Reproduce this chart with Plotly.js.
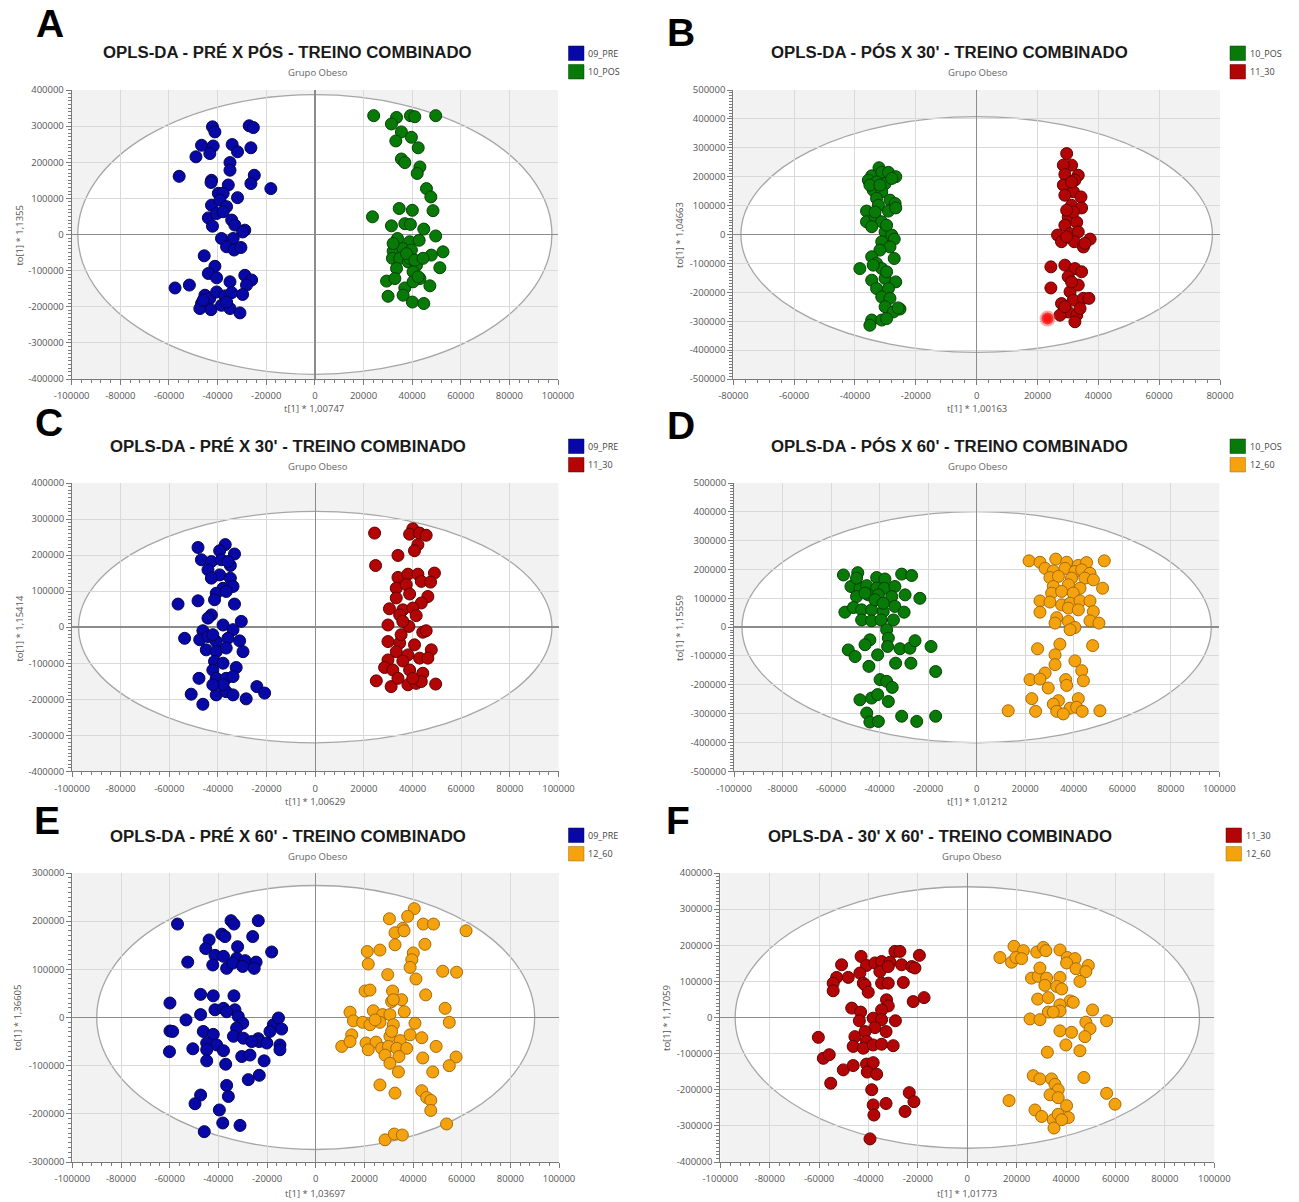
<!DOCTYPE html>
<html><head><meta charset="utf-8">
<script src="https://cdn.plot.ly/plotly-3.0.1.min.js"></script>
<style>html,body{margin:0;padding:0;background:#fff}#chart{width:1299px;height:1202px}</style>
</head><body><div id="chart"></div>
<script>
// ---------------- DATA ----------------
const PANEL_LETTERS = ['A','B','C','D','E','F'];
const TITLES = [
  "OPLS-DA - PRÉ X PÓS - TREINO COMBINADO",
  "OPLS-DA - PÓS X 30' - TREINO COMBINADO",
  "OPLS-DA - PRÉ X 30' - TREINO COMBINADO",
  "OPLS-DA - PÓS X 60' - TREINO COMBINADO",
  "OPLS-DA - PRÉ X 60' - TREINO COMBINADO",
  "OPLS-DA - 30' X 60' - TREINO COMBINADO"
];
const SUBTITLE = "Grupo Obeso";
const X_TITLES = ["t[1] * 1,00747","t[1] * 1,00163","t[1] * 1,00629","t[1] * 1,01212","t[1] * 1,03697","t[1] * 1,01773"];
const Y_TITLES = ["to[1] * 1,1355","to[1] * 1,04663","to[1] * 1,15414","to[1] * 1,15559","to[1] * 1,36605","to[1] * 1,17059"];
const LEGEND_GROUPS = [["09_PRE","10_POS"],["10_POS","11_30"],["09_PRE","11_30"],["10_POS","12_60"],["09_PRE","12_60"],["11_30","12_60"]];
const X_MAX = [100000, 80000, 100000, 100000, 100000, 100000];
const Y_MAX = [400000, 500000, 400000, 500000, 300000, 400000];
// Hotelling T2 ellipse semi-axes (t, to)
const ELLIPSE_T  = [97500, 77500, 97300, 96700, 90000, 94000];
const ELLIPSE_TO = [387000, 408000, 321000, 401000, 274000, 362000];

// Panel A
const A_PRE_X = [-42100,-41100,-27000,-25300,-46600,-41800,-43200,-34000,-31800,-26300,-48900,-34900,-34900,-55800,-42500,-42700,-24900,-26300,-35600,-18100,-39700,-37700,-31800,-42500,-39000,-36300,-43800,-40400,-37700,-42100,-34200,-32900,-28800,-29700,-38400,-33600,-36300,-33200,-30400,-45500,-41100,-43800,-40400,-34900,-28800,-26000,-28100,-57500,-51600,-45200,-46600,-43200,-40400,-37000,-34200,-29700,-47300,-42700,-38400,-34900,-30800,-45900,-36300];
const A_PRE_Y = [298000,284000,301000,296000,247000,245000,224000,249000,229000,240000,215000,199000,178000,161000,150000,144000,164000,141000,137000,127000,114000,114000,102000,81000,95000,77000,46000,58000,63000,23000,40000,26000,12000,7000,-11000,-11000,-34000,-43000,-36000,-59000,-88000,-108000,-120000,-131000,-113000,-126000,-140000,-148000,-140000,-168000,-191000,-177000,-159000,-170000,-161000,-166000,-205000,-208000,-196000,-205000,-217000,-182000,-187000];
const A_POS_X = [24200,33600,39300,41100,49700,31500,35600,39700,33300,42500,35600,37000,43200,42100,45900,47700,34700,40100,48600,23700,31500,37000,39300,44800,49700,34000,39000,42900,32200,36300,39700,47900,52700,51400,31900,34900,38400,41800,33600,40400,43200,47300,29500,32900,37000,40400,42500,30100,36300,40100,44800,39000,37700,41100,44500,32200];
const A_POS_Y = [329000,324000,329000,326000,329000,306000,284000,269000,259000,240000,209000,199000,187000,169000,127000,104000,72000,67000,66000,49000,24000,30000,28000,15000,-4000,-11000,-20000,-16000,-46000,-39000,-43000,-57000,-48000,-92000,-66000,-66000,-76000,-85000,-94000,-103000,-122000,-142000,-129000,-122000,-148000,-131000,-117000,-171000,-168000,-187000,-191000,-66000,-53000,-71000,-66000,-25000];

// Panel B
const B_POS_X = [-32100,-34500,-31200,-29000,-26600,-35600,-32900,-30100,-27900,-34000,-31200,-32900,-28500,-26800,-36200,-32300,-29000,-26600,-36200,-33400,-31200,-34500,-30100,-27900,-27100,-31200,-28500,-31800,-34500,-32900,-27100,-38400,-31200,-34500,-30100,-26600,-32900,-29000,-31200,-28500,-30100,-25200,-27400,-34500,-35100,-31200,-29600,-25800,-35100,-31800,-33400,-29600,-34000,-29600];
const B_POS_Y = [231000,203000,215000,215000,200000,188000,182000,176000,194000,153000,148000,125000,119000,107000,81000,101000,81000,92000,44000,61000,44000,27000,9000,-2000,-16000,-25000,-43000,-54000,-77000,-100000,-83000,-118000,-118000,-158000,-152000,-164000,-187000,-187000,-216000,-221000,-250000,-258000,-268000,-296000,-314000,-296000,-291000,-254000,171000,171000,78000,32000,-106000,-129000];
const B_30_X = [29600,31200,28500,33400,29000,32300,28500,31800,34300,29000,31200,34500,30100,32900,29000,30700,26600,33400,27900,32100,35100,37300,35600,29600,24400,29000,32300,34500,30100,24400,30700,33400,27900,31800,35100,36900,30100,32900,27400,32300,29000,34000,31200,31800,29600,31200];
const B_30_Y = [280000,240000,240000,205000,208000,188000,171000,148000,130000,136000,101000,92000,61000,42000,32000,3000,-2000,9000,-25000,-25000,-43000,-16000,-31000,-8000,-112000,-106000,-118000,-129000,-146000,-185000,-198000,-175000,-239000,-227000,-221000,-221000,-268000,-279000,-279000,-302000,-250000,-256000,182000,78000,84000,-164000];
const B_SEL_X = [23300];
const B_SEL_Y = [-291000];

// Panel C
const C_PRE_X = [-48200,-37000,-33200,-39300,-46800,-42700,-38600,-34900,-44100,-39300,-42700,-34900,-33800,-37900,-40700,-36600,-56400,-48200,-41400,-33200,-42700,-44100,-30400,-37900,-33800,-46200,-53700,-47500,-44100,-40700,-35900,-31100,-29700,-44800,-40700,-36600,-41400,-37900,-42100,-32500,-47800,-40700,-36600,-33800,-51000,-40700,-36600,-33800,-46200,-28400,-24000,-20800,-37900,-42100,-35900,-42100];
const C_PRE_Y = [221000,229000,203000,212000,187000,182000,187000,171000,159000,145000,136000,136000,113000,108000,94000,99000,64000,73000,76000,64000,34000,25000,16000,6000,-7000,-10000,-31000,-35000,-26000,-40000,-31000,-38000,-68000,-63000,-68000,-58000,-95000,-100000,-119000,-112000,-142000,-142000,-142000,-137000,-186000,-188000,-179000,-188000,-214000,-199000,-165000,-183000,-160000,-160000,182000,-21000];
const C_30_X = [24400,40100,38800,42900,45600,42200,40800,34000,24800,34000,38100,42200,49000,43600,47400,33300,37400,38800,46300,33300,43600,30500,36000,40100,34700,41500,38500,29900,44200,45600,29900,34700,40800,47700,33300,38100,29900,36000,42900,46300,28500,31900,38800,44200,25100,31200,34000,38100,41500,43600,49500,40100,36000,35300];
const C_30_Y = [261000,273000,258000,261000,255000,229000,212000,199000,171000,138000,147000,147000,150000,127000,125000,108000,118000,92000,85000,81000,67000,51000,48000,53000,34000,32000,2000,6000,-14000,-10000,-40000,-44000,-49000,-63000,-68000,-77000,-91000,-94000,-86000,-86000,-112000,-119000,-119000,-128000,-149000,-165000,-142000,-160000,-156000,-151000,-158000,-142000,16000,-21000];

// Panel D
const D_POS_X = [-54900,-49000,-41200,-37800,-30900,-26800,-51800,-48100,-45300,-41200,-38000,-33700,-49500,-44600,-40500,-35000,-29500,-23400,-54300,-50800,-47400,-43300,-38500,-33700,-29900,-47400,-43300,-39400,-34300,-37100,-36400,-44000,-46000,-52900,-50100,-40800,-36700,-31600,-27500,-25400,-18800,-44400,-33400,-27100,-16900,-39800,-37100,-34800,-48100,-43300,-40800,-36400,-45300,-44000,-40500,-30900,-24700,-16900,-46000,-41900,-38500,-49500];
const D_POS_Y = [181000,189000,172000,167000,184000,179000,141000,135000,144000,135000,135000,141000,106000,112000,112000,106000,112000,100000,52000,68000,60000,60000,54000,72000,52000,25000,22000,25000,25000,-9000,-38000,-44000,-61000,-79000,-102000,-96000,-67000,-75000,-73000,-47000,-67000,-136000,-125000,-125000,-154000,-182000,-188000,-209000,-252000,-246000,-234000,-258000,-298000,-329000,-327000,-309000,-327000,-309000,118000,95000,83000,170000];
const D_60_X = [21600,26100,32600,37100,41900,45300,52600,28200,31600,36400,40500,43300,46700,30200,33700,39100,44600,48100,31600,37800,42600,51900,30900,35000,39800,26100,30200,35000,38500,42600,46700,26100,33000,37800,41900,48100,32300,37800,40500,46700,50400,38500,25100,34300,47800,32300,32300,40500,43300,28200,22000,26100,36700,44000,29500,37100,22700,33700,41900,31600,38500,41200,13000,24300,33000,35700,43500,50800];
const D_60_Y = [230000,225000,236000,225000,214000,224000,230000,204000,195000,204000,193000,199000,187000,172000,176000,170000,170000,164000,141000,147000,135000,135000,118000,124000,118000,91000,87000,77000,83000,91000,91000,52000,33000,66000,60000,54000,14000,20000,-1000,22000,14000,-9000,-75000,-59000,-64000,-96000,-130000,-117000,-151000,-159000,-182000,-180000,-182000,-186000,-211000,-202000,-248000,-255000,-248000,-267000,-281000,-278000,-290000,-292000,-292000,-301000,-292000,-290000];

// Panel E
const E_PRE_X = [-56800,-34800,-33600,-23600,-38600,-37300,-25900,-43800,-45200,-32100,-41400,-37900,-32500,-29000,-24500,-18100,-52600,-42300,-36600,-34100,-30000,-25300,-47300,-42100,-33600,-59900,-41400,-37900,-33200,-53300,-47300,-31800,-30000,-59900,-58800,-46200,-42100,-32500,-33800,-29700,-23600,-17400,-15300,-14000,-44800,-40700,-37900,-23200,-20100,-14700,-60100,-50500,-44800,-30400,-27000,-21200,-44800,-37000,-27700,-23200,-36600,-35900,-47300,-49600,-39600,-38200,-31100,-45800,-36600,-26300,-18800,-14700];
const E_PRE_Y = [194000,201000,194000,201000,173000,168000,168000,161000,143000,147000,129000,127000,123000,118000,115000,136000,115000,109000,102000,113000,106000,102000,48000,45000,45000,30000,16000,19000,16000,-5000,6000,2000,-12000,-28000,-29000,-29000,-35000,-22000,-39000,-43000,-44000,-15000,-1000,-24000,-53000,-57000,-69000,-50000,-53000,-57000,-71000,-65000,-67000,-81000,-78000,-90000,-90000,-97000,-129000,-120000,-141000,-164000,-161000,-179000,-192000,-219000,-224000,-237000,12000,-50000,-29000,-67000];
const E_60_X = [40500,30300,37800,44200,48400,61800,35800,32600,36300,32600,44900,21200,26400,40100,39500,38800,21600,52200,57900,29600,41200,20300,22300,31600,45200,31200,35300,36400,53200,14100,23700,27500,30500,15500,19300,22300,26400,40800,54900,14800,20700,24800,30500,34700,38800,43600,10700,14100,21600,27100,29900,33300,37400,49500,28500,34200,44000,57700,54900,30500,34000,48100,26400,32600,43600,45600,47300,47300,53800,28500,32300,35600,24400,31900,31200,31900];
const E_60_Y = [226000,205000,210000,194000,194000,180000,185000,176000,180000,151000,152000,137000,140000,134000,120000,104000,111000,96000,94000,89000,80000,55000,57000,55000,47000,33000,37000,12000,19000,11000,14000,6000,6000,-7000,-10000,-15000,-10000,-12000,-10000,-36000,-53000,-51000,-39000,-48000,-36000,-42000,-60000,-50000,-67000,-64000,-60000,-64000,-64000,-60000,-78000,-81000,-84000,-82000,-100000,-95000,-113000,-113000,-140000,-157000,-152000,-166000,-172000,-193000,-221000,-254000,-242000,-244000,-5000,-15000,-29000,37000];

// Panel F
const F_30_X = [-43000,-50900,-40800,-37400,-34700,-29300,-27300,-19400,-31300,-26600,-22500,-21200,-43500,-35400,-32000,-52900,-48200,-54300,-54300,-42100,-41400,-40100,-34700,-32000,-25900,-32700,-32000,-21900,-17500,-46800,-43200,-34700,-43700,-38100,-34700,-29100,-37400,-32900,-60300,-45500,-41400,-40800,-46200,-42100,-38100,-34700,-30000,-58300,-55900,-50200,-46200,-40800,-38100,-40500,-36700,-55300,-38700,-23500,-21600,-38100,-32900,-37800,-25200,-39400];
const F_30_Y = [169000,146000,144000,151000,155000,183000,183000,172000,153000,146000,141000,137000,123000,127000,141000,111000,111000,95000,74000,95000,90000,70000,95000,95000,97000,49000,32000,44000,55000,26000,15000,21000,-9000,-2000,-6000,-9000,-28000,-39000,-55000,-53000,-39000,-66000,-80000,-85000,-76000,-74000,-78000,-113000,-103000,-145000,-133000,-129000,-125000,-151000,-157000,-182000,-200000,-208000,-233000,-242000,-238000,-270000,-260000,-336000];
const F_60_X = [13200,18900,22700,17900,19700,22000,28100,30800,31800,37500,40500,43600,40200,44000,49000,48000,45600,26000,28700,32100,37500,29400,31400,36200,38200,28500,32800,41600,42900,37500,32800,37500,25400,29400,34800,50700,56400,48000,49700,47600,37500,42200,39900,45600,32400,26700,29400,34100,35500,47200,36800,33500,36800,56400,59800,16900,27400,30100,34800,36800,40200,40900,35100,38200];
const F_60_Y = [166000,197000,185000,153000,166000,163000,181000,194000,185000,187000,166000,163000,151000,135000,144000,127000,100000,109000,114000,109000,111000,137000,89000,86000,79000,51000,55000,46000,42000,35000,15000,18000,-4000,-6000,15000,21000,-9000,-13000,-31000,-53000,-37000,-41000,-76000,-92000,-96000,-161000,-170000,-170000,-185000,-166000,-200000,-214000,-222000,-210000,-240000,-230000,-256000,-274000,-283000,-268000,-244000,-277000,-306000,-283000];

// ---------------- STYLE ----------------
const GROUP_COLORS = {
  "09_PRE": {fill:'#0808a8', line:'#04044e'},
  "10_POS": {fill:'#087a08', line:'#034203'},
  "11_30":  {fill:'#b30505', line:'#620000'},
  "12_60":  {fill:'#f4a30e', line:'#a86a06'}
};
const W = 1299, H = 1202;
const PX = v => v / W;
const PY = v => 1 - v / H;

// plot-area pixel boxes [left, right, top, bottom]
const GEOM = [
  [71.7, 558, 90, 379],
  [733.3, 1220, 90, 379],
  [72, 558.5, 483, 771.3],
  [734, 1219.3, 483, 771.3],
  [72.4, 559, 873, 1162],
  [720.3, 1214.3, 873, 1162]
];
// text positions (pixels)
const LETTER_POS = [[50,24],[681,33],[49,422],[681,425],[47,821],[678,821]];
const TITLE_POS  = [[287,53],[949,53],[288,446],[949,446],[288,836],[940,836]];
const SUB_POS    = [[318,73],[978,73],[318,466],[978,466],[318,856],[972,856]];
const XT_POS     = [[314,409],[977,409],[315,801],[977,801],[315,1193],[967,1193]];
const YT_POS     = [[18.6,235],[679,235],[18.6,628],[679,628],[16.5,1018],[666,1018]];
const LEG_POS    = [[568.5,46],[1230,46],[568.5,439],[1230,439],[568.5,828],[1226,828]];

const SERIES = [
  [[A_PRE_X,A_PRE_Y,"09_PRE"],[A_POS_X,A_POS_Y,"10_POS"]],
  [[B_POS_X,B_POS_Y,"10_POS"],[B_30_X,B_30_Y,"11_30"]],
  [[C_PRE_X,C_PRE_Y,"09_PRE"],[C_30_X,C_30_Y,"11_30"]],
  [[D_POS_X,D_POS_Y,"10_POS"],[D_60_X,D_60_Y,"12_60"]],
  [[E_PRE_X,E_PRE_Y,"09_PRE"],[E_60_X,E_60_Y,"12_60"]],
  [[F_30_X,F_30_Y,"11_30"],[F_60_X,F_60_Y,"12_60"]]
];

const traces = [];
const layout = {
  width: W, height: H, autosize: false,
  margin: {l:0, r:0, t:0, b:0},
  paper_bgcolor: '#ffffff', plot_bgcolor: '#f2f2f2',
  showlegend: false,
  font: {family: 'Open Sans, sans-serif', color: '#555'},
  shapes: [], annotations: []
};

function ticks(max, step) {
  const v = [];
  for (let t = -max; t <= max + 1; t += step) v.push(t);
  return v;
}

const tickFont = {family: 'Open Sans, sans-serif', size: 9.5, color: '#555'};

for (let i = 0; i < 6; i++) {
  const k = i === 0 ? '' : String(i + 1);
  const g = GEOM[i];
  const xv = ticks(X_MAX[i], 20000);
  const yv = ticks(Y_MAX[i], 100000);
  layout['xaxis' + k] = {
    domain: [PX(g[0]), PX(g[1])], range: [-X_MAX[i], X_MAX[i]], anchor: 'y' + k,
    tickmode: 'array', tickvals: xv, ticktext: xv.map(String),
    ticks: 'outside', ticklen: 5, tickcolor: '#7a7a7a', tickfont: tickFont, ticklabelstandoff: 3,
    showline: true, linecolor: '#7a7a7a', linewidth: 1,
    showgrid: true, gridcolor: '#d9d9d9', gridwidth: 1,
    zeroline: true, zerolinecolor: '#8c8c8c', zerolinewidth: 1.5,
    minor: {tickmode: 'linear', tick0: 0, dtick: 4000, ticks: 'outside', ticklen: 3, tickcolor: '#7a7a7a', showgrid: false},
    fixedrange: true
  };
  layout['yaxis' + k] = {
    domain: [PY(g[3]), PY(g[2])], range: [-Y_MAX[i], Y_MAX[i]], anchor: 'x' + k,
    tickmode: 'array', tickvals: yv, ticktext: yv.map(String),
    ticks: 'outside', ticklen: 5, tickcolor: '#7a7a7a', tickfont: tickFont,
    showline: true, linecolor: '#7a7a7a', linewidth: 1,
    showgrid: true, gridcolor: '#d9d9d9', gridwidth: 1,
    zeroline: true, zerolinecolor: '#8c8c8c', zerolinewidth: 1.5,
    minor: {tickmode: 'linear', tick0: 0, dtick: 10000, ticks: 'outside', ticklen: 3, tickcolor: '#7a7a7a', showgrid: false},
    fixedrange: true
  };
  // Hotelling ellipse
  layout.shapes.push({
    type: 'circle', xref: 'x' + k, yref: 'y' + k, layer: 'below',
    x0: -ELLIPSE_T[i], x1: ELLIPSE_T[i], y0: -ELLIPSE_TO[i], y1: ELLIPSE_TO[i],
    fillcolor: '#ffffff', line: {color: '#a6a6a6', width: 1.3}
  });
  // scatter series
  SERIES[i].forEach(s => {
    const c = GROUP_COLORS[s[2]];
    traces.push({
      type: 'scatter', mode: 'markers', x: s[0], y: s[1], name: s[2],
      xaxis: 'x' + k, yaxis: 'y' + k, hoverinfo: 'skip',
      marker: {size: 12, color: c.fill, line: {color: c.line, width: 1}}
    });
  });
  // legend
  const lp = LEG_POS[i];
  LEGEND_GROUPS[i].forEach((name, j) => {
    const c = GROUP_COLORS[name];
    const top = lp[1] + j * 18.5;
    layout.shapes.push({
      type: 'rect', xref: 'paper', yref: 'paper',
      x0: PX(lp[0]), x1: PX(lp[0] + 15.5), y0: PY(top + 14.5), y1: PY(top),
      fillcolor: c.fill, line: {color: c.line, width: 0.5}
    });
    layout.annotations.push({
      xref: 'paper', yref: 'paper', x: PX(lp[0] + 17.5), y: PY(top + 7.3),
      xanchor: 'left', yanchor: 'middle', showarrow: false, text: name,
      font: {family: 'Open Sans, sans-serif', size: 9, color: '#444'}
    });
  });
  // panel letter
  layout.annotations.push({
    xref: 'paper', yref: 'paper', x: PX(LETTER_POS[i][0]), y: PY(LETTER_POS[i][1]),
    xanchor: 'center', yanchor: 'middle', showarrow: false, text: '<b>' + PANEL_LETTERS[i] + '</b>',
    font: {family: 'Liberation Sans, Arial, sans-serif', size: 39, color: '#000'}
  });
  // title & subtitle
  layout.annotations.push({
    xref: 'paper', yref: 'paper', x: PX(TITLE_POS[i][0]), y: PY(TITLE_POS[i][1]),
    xanchor: 'center', yanchor: 'middle', showarrow: false, text: '<b>' + TITLES[i] + '</b>',
    font: {family: 'Liberation Sans, Arial, sans-serif', size: 16.8, color: '#1a1a1a'}
  });
  layout.annotations.push({
    xref: 'paper', yref: 'paper', x: PX(SUB_POS[i][0]), y: PY(SUB_POS[i][1]),
    xanchor: 'center', yanchor: 'middle', showarrow: false, text: SUBTITLE,
    font: {family: 'Open Sans, sans-serif', size: 9.5, color: '#666'}
  });
  // axis titles
  layout.annotations.push({
    xref: 'paper', yref: 'paper', x: PX(XT_POS[i][0]), y: PY(XT_POS[i][1]),
    xanchor: 'center', yanchor: 'middle', showarrow: false, text: X_TITLES[i],
    font: {family: 'Open Sans, sans-serif', size: 9.5, color: '#555'}
  });
  layout.annotations.push({
    xref: 'paper', yref: 'paper', x: PX(YT_POS[i][0]), y: PY(YT_POS[i][1]),
    xanchor: 'center', yanchor: 'middle', showarrow: false, text: Y_TITLES[i], textangle: -90,
    font: {family: 'Open Sans, sans-serif', size: 9.5, color: '#555'}
  });
}

// highlighted (selected) observation in panel B
traces.push({
  type: 'scatter', mode: 'markers', x: B_SEL_X, y: B_SEL_Y, name: 'selected',
  xaxis: 'x2', yaxis: 'y2', hoverinfo: 'skip',
  marker: {size: 12, color: '#ff1414', line: {color: 'rgba(230,90,90,0.5)', width: 4}}
});

Plotly.newPlot('chart', traces, layout, {staticPlot: true, displayModeBar: false});
</script>
</body></html>
